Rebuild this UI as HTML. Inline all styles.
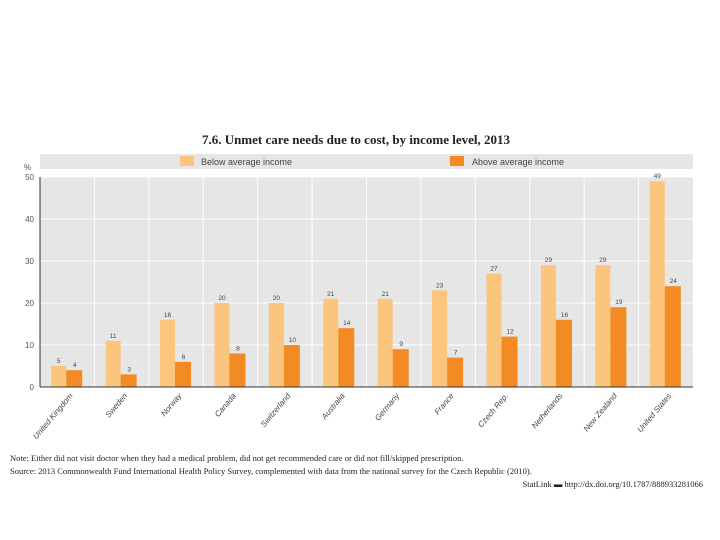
<!DOCTYPE html>
<html><head><meta charset="utf-8"><style>
body{margin:0;background:#fff;width:720px;height:540px;overflow:hidden;font-family:"Liberation Sans",sans-serif}
</style></head><body>
<svg id="c" width="720" height="540" style="position:absolute;left:0;top:0">
<text x="356" y="144" text-anchor="middle" font-family="Liberation Serif" font-weight="bold" font-size="13" fill="#222">7.6.  Unmet care needs due to cost, by income level, 2013</text>
<rect x="40" y="154" width="653" height="15" fill="#e6e6e6"/>
<g><rect x="180" y="156" width="14" height="10" fill="#fbc57d"/><text x="201" y="165" font-size="9" fill="#444">Below average income</text></g>
<g><rect x="450" y="156" width="14" height="10" fill="#f38a24"/><text x="472" y="165" font-size="9" fill="#444">Above average income</text></g>
<rect x="40" y="177" width="653" height="210" fill="#e6e6e6"/>
<text x="24" y="170" font-size="8" fill="#555">%</text>
<g id="g"></g>
<text x="10" y="461" font-family="Liberation Serif" font-size="8.5" fill="#222">Note: Either did not visit doctor when they had a medical problem, did not get recommended care or did not fill/skipped prescription.</text>
<text x="10" y="474" font-family="Liberation Serif" font-size="8.5" fill="#222">Source: 2013 Commonwealth Fund International Health Policy Survey, complemented with data from the national survey for the Czech Republic (2010).</text>
<text x="703" y="487" text-anchor="end" font-family="Liberation Serif" font-size="8.5" fill="#222">StatLink ▬ http://dx.doi.org/10.1787/888933281066</text>
</svg>
<script>
const categories=["United Kingdom","Sweden","Norway","Canada","Switzerland","Australia","Germany","France","Czech Rep.","Netherlands","New Zealand","United States"];
const belowValues=[5,11,16,20,20,21,21,23,27,29,29,49];
const aboveValues=[4,3,6,8,10,14,9,7,12,16,19,24];
const aboveLabels=["4","3","6","8","10","14","9","7","12","16","19","24"];
const yTicks=[0,10,20,30,40,50];
const NS="http://www.w3.org/2000/svg",g=document.getElementById('g');
const X0=40,W=653,Y0=387,H=210,cw=W/categories.length;
const y=v=>Y0-v/50*H, x=i=>X0+i*cw;
function mk(t,a,txt){const e=document.createElementNS(NS,t);for(const k in a)e.setAttribute(k,a[k]);if(txt!=null)e.textContent=txt;g.appendChild(e);return e;}
yTicks.forEach(t=>{
 if(t>0){const l=mk('line',{x1:X0,x2:X0+W,y1:y(t),y2:y(t),stroke:'#fff','stroke-width':1});
 
 }
 const tx=mk('text',{x:34,y:y(t)+3,'text-anchor':'end','font-size':8,fill:'#555'},t);
 
 
});
categories.forEach((c,i)=>{
 if(i>0){const s=mk('line',{x1:x(i),x2:x(i),y1:177,y2:Y0,stroke:'#fff','stroke-width':1});
 
 }
 const bw=15,cx=x(i)+cw/2;
 const b1=mk('rect',{x:cx-bw-1,y:y(belowValues[i]),width:bw,height:Y0-y(belowValues[i]),fill:'#fbc57d'});
 
 
 const b2=mk('rect',{x:cx-1,y:y(aboveValues[i]),width:bw+1,height:Y0-y(aboveValues[i]),fill:'#f38a24'});
 
 
 const l1=mk('text',{x:cx-bw/2-1,y:y(belowValues[i])-3,'text-anchor':'middle','font-size':6.5,fill:'#444'},belowValues[i]);
 
 
 const l2=mk('text',{x:cx+bw/2,y:y(aboveValues[i])-3,'text-anchor':'middle','font-size':6.5,fill:'#444'},aboveLabels[i]);
 
 
 const cl=mk('text',{x:cx+6,y:396,'text-anchor':'end','font-size':8,'font-style':'italic',fill:'#444',transform:`rotate(-50 ${cx+6} 396)`},c);
 
 
});
const ax=mk('line',{x1:X0,x2:X0+W,y1:Y0,y2:Y0,stroke:'#333','stroke-width':1});


const ay=mk('line',{x1:X0,x2:X0,y1:177,y2:Y0,stroke:'#333','stroke-width':1});


</script>
</body></html>
